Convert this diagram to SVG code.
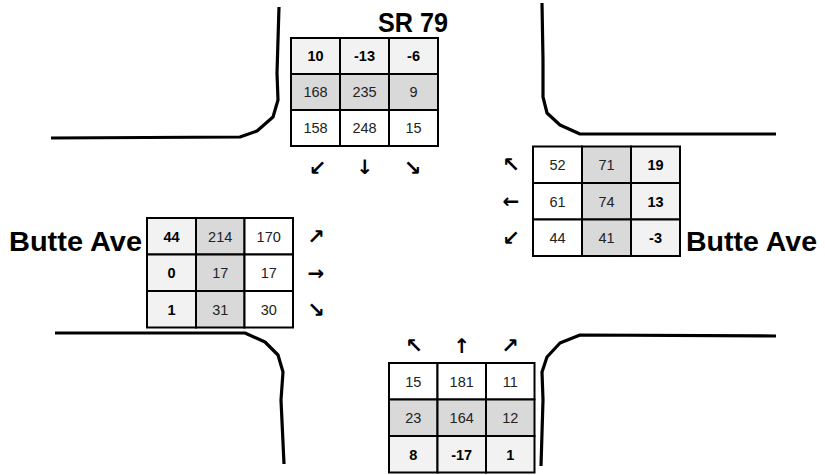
<svg xmlns="http://www.w3.org/2000/svg" width="825" height="475" viewBox="0 0 825 475">
<style>
.curb{fill:none;stroke:#000;stroke-width:3.2;stroke-linejoin:round;stroke-linecap:butt}
.c{stroke:#000;stroke-width:2}
.w{fill:#fff}
.g{fill:#d9d9d9}
.l{fill:#f2f2f2}
.n{font-family:"Liberation Sans",Arial,sans-serif;font-size:14.5px;fill:#222;text-anchor:middle}
.b{font-weight:bold;fill:#000}
.ar{font-family:"DejaVu Sans",sans-serif;font-size:20px;font-weight:bold;fill:#000;text-anchor:middle}
.d{font-size:21px}
.t{font-family:"Liberation Sans",Arial,sans-serif;font-size:28px;font-weight:bold;fill:#000}
</style>
<rect width="825" height="475" fill="#fff"/>
<g id="roads">
<path class="curb" d="M51,138 L240,137 L257,131 L273,117 L278,100 L277,73 L279,7"/>
<path class="curb" d="M542,3 L543,60 L543,97 L547,113 L560,125 L580,134 L776,134"/>
<path class="curb" d="M55,333 L245,333 L265,342 L278,355 L283,372 L281,400 L284,464"/>
<path class="curb" d="M776,336 L580,335 L560,343 L547,357 L542,372 L543,400 L541,466"/>
</g>
<g id="connectors"/>
<g id="north">
<text class="t" x="378" y="32" textLength="70" lengthAdjust="spacingAndGlyphs">SR 79</text>
<rect class="c l" x="291" y="38" width="49" height="36"/><rect class="c l" x="340" y="38" width="49" height="36"/><rect class="c l" x="389" y="38" width="49" height="36"/>
<rect class="c g" x="291" y="74" width="49" height="36"/><rect class="c g" x="340" y="74" width="49" height="36"/><rect class="c g" x="389" y="74" width="49" height="36"/>
<rect class="c w" x="291" y="110" width="49" height="36"/><rect class="c w" x="340" y="110" width="49" height="36"/><rect class="c w" x="389" y="110" width="49" height="36"/>
<text class="n b" x="315.5" y="61">10</text><text class="n b" x="364.5" y="61">-13</text><text class="n b" x="413.5" y="61">-6</text>
<text class="n" x="315.5" y="97">168</text><text class="n" x="364.5" y="97">235</text><text class="n" x="413.5" y="97">9</text>
<text class="n" x="315.5" y="133">158</text><text class="n" x="364.5" y="133">248</text><text class="n" x="413.5" y="133">15</text>
<text class="ar d" x="317.5" y="175">↙</text><text class="ar" x="365" y="174">↓</text><text class="ar d" x="412.5" y="175">↘</text>
</g>
<g id="east">
<rect class="c w" x="533" y="146.5" width="49" height="36.5"/><rect class="c g" x="582" y="146.5" width="49" height="36.5"/><rect class="c l" x="631" y="146.5" width="49" height="36.5"/>
<rect class="c w" x="533" y="183" width="49" height="36.5"/><rect class="c g" x="582" y="183" width="49" height="36.5"/><rect class="c l" x="631" y="183" width="49" height="36.5"/>
<rect class="c w" x="533" y="219.5" width="49" height="36.5"/><rect class="c g" x="582" y="219.5" width="49" height="36.5"/><rect class="c l" x="631" y="219.5" width="49" height="36.5"/>
<text class="n" x="557.5" y="170">52</text><text class="n" x="606.5" y="170">71</text><text class="n b" x="655.5" y="170">19</text>
<text class="n" x="557.5" y="206.5">61</text><text class="n" x="606.5" y="206.5">74</text><text class="n b" x="655.5" y="206.5">13</text>
<text class="n" x="557.5" y="243">44</text><text class="n" x="606.5" y="243">41</text><text class="n b" x="655.5" y="243">-3</text>
<text class="ar d" x="511" y="172">↖</text><text class="ar" x="511" y="208">←</text><text class="ar d" x="511" y="245">↙</text>
<text class="t" x="686" y="251" textLength="131" lengthAdjust="spacingAndGlyphs">Butte Ave</text>
</g>
<g id="west">
<text class="t" x="9" y="251" textLength="133" lengthAdjust="spacingAndGlyphs">Butte Ave</text>
<rect class="c l" x="147" y="218" width="49" height="36.5"/><rect class="c g" x="196" y="218" width="48.5" height="36.5"/><rect class="c w" x="244.5" y="218" width="48.5" height="36.5"/>
<rect class="c l" x="147" y="254.5" width="49" height="36.5"/><rect class="c g" x="196" y="254.5" width="48.5" height="36.5"/><rect class="c w" x="244.5" y="254.5" width="48.5" height="36.5"/>
<rect class="c l" x="147" y="291" width="49" height="36.5"/><rect class="c g" x="196" y="291" width="48.5" height="36.5"/><rect class="c w" x="244.5" y="291" width="48.5" height="36.5"/>
<text class="n b" x="171.5" y="241.5">44</text><text class="n" x="220.2" y="241.5">214</text><text class="n" x="268.7" y="241.5">170</text>
<text class="n b" x="171.5" y="278">0</text><text class="n" x="220.2" y="278">17</text><text class="n" x="268.7" y="278">17</text>
<text class="n b" x="171.5" y="314.5">1</text><text class="n" x="220.2" y="314.5">31</text><text class="n" x="268.7" y="314.5">30</text>
<text class="ar d" x="316" y="244">↗</text><text class="ar" x="316" y="280">→</text><text class="ar d" x="316" y="317">↘</text>
</g>
<g id="south">
<rect class="c w" x="389" y="363" width="48.5" height="36.5"/><rect class="c w" x="437.5" y="363" width="48.5" height="36.5"/><rect class="c w" x="486" y="363" width="48.5" height="36.5"/>
<rect class="c g" x="389" y="399.5" width="48.5" height="36.5"/><rect class="c g" x="437.5" y="399.5" width="48.5" height="36.5"/><rect class="c g" x="486" y="399.5" width="48.5" height="36.5"/>
<rect class="c l" x="389" y="436" width="48.5" height="36.5"/><rect class="c l" x="437.5" y="436" width="48.5" height="36.5"/><rect class="c l" x="486" y="436" width="48.5" height="36.5"/>
<text class="n" x="413.2" y="386.5">15</text><text class="n" x="461.7" y="386.5">181</text><text class="n" x="510.2" y="386.5">11</text>
<text class="n" x="413.2" y="423">23</text><text class="n" x="461.7" y="423">164</text><text class="n" x="510.2" y="423">12</text>
<text class="n b" x="413.2" y="459.5">8</text><text class="n b" x="461.7" y="459.5">-17</text><text class="n b" x="510.2" y="459.5">1</text>
<text class="ar d" x="414" y="353">↖</text><text class="ar" x="462" y="353">↑</text><text class="ar d" x="510" y="353">↗</text>
</g>
</svg>
